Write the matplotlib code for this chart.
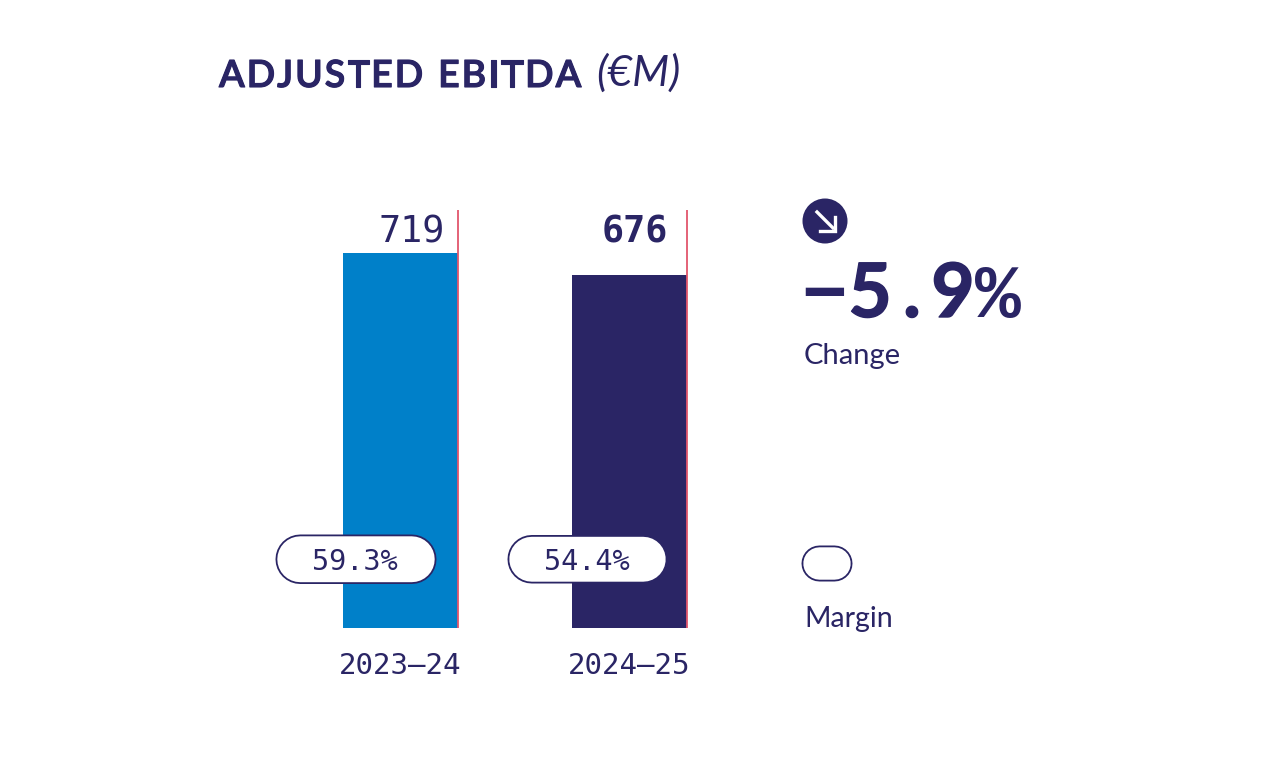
import matplotlib
matplotlib.use('Agg')
import matplotlib.pyplot as plt
import matplotlib.patheffects as pe
from matplotlib.patches import Circle

# values
years = ['2023–24', '2024–25']
ebitda = [719, 676]
margins = ['59.3%', '54.4%']
change = '−5.9%'

navy = '#2a2565'
blue = '#0080c9'
red = '#e2566c'
mono = 'DejaVu Sans Mono'
sans = 'Lato'

W, H = 1280, 758
fig = plt.figure(figsize=(W / 100, H / 100), dpi=100, facecolor='white')

# bars, axes placed so that 0 sits on y=628 and bars are 229px apart
ax = fig.add_axes([300 / W, (H - 628) / H, 430 / W, 418 / H])
ax.set_xlim(-0.439, 1.439)
ax.set_ylim(0, 801)
ax.axis('off')
bar_w = 0.502
xs = [0, 1]
ax.bar(xs, ebitda, width=bar_w, color=[blue, navy], linewidth=0)
# thin red line on the right side of each bar
ax.vlines([x + bar_w / 2 for x in xs], 0, 801, color=red, lw=1.3, zorder=3)

# overlay in pixel coordinates for the labels, pills and side notes
ov = fig.add_axes([0, 0, 1, 1], zorder=5)
ov.set_xlim(0, W)
ov.set_ylim(H, 0)
ov.axis('off')


def pill(x0, y0, x1, y1):
    # round capped thick lines give true half circle ends
    h = y1 - y0
    r = h / 2
    ym = (y0 + y1) / 2
    ov.plot([x0 + r, x1 - r], [ym, ym], color=navy, lw=h * 0.72, solid_capstyle='round', snap=False)
    ov.plot([x0 + r, x1 - r], [ym, ym], color='white', lw=(h - 3.6) * 0.72, solid_capstyle='round', snap=False)


def spaced(s, x, y, gap, **kw):
    # matplotlib has no letter spacing, so place each glyph on its own
    r = fig.canvas.get_renderer()
    for ch in s:
        t = ov.text(x, y, ch, ha='left', va='baseline', **kw)
        x += t.get_window_extent(r).width + gap if ch != ' ' else 11 + gap
    return x


ov.text(445, 232, str(ebitda[0]), ha='right', va='center', family=mono, fontsize=26.5, color=navy)
ov.text(668, 232, str(ebitda[1]), ha='right', va='center', family=mono, fontweight='bold', fontsize=26.5, color=navy)
for px, yr in zip([400.5, 629.5], years):
    ov.text(px, 666, yr, ha='center', va='center', family=mono, fontsize=21, color=navy)

pill(275.5, 534.5, 436.5, 584)
pill(507.5, 535, 667.5, 583.5)
ov.text(355, 562, margins[0], ha='center', va='center', family=mono, fontsize=20.5, color=navy)
ov.text(587, 562, margins[1], ha='center', va='center', family=mono, fontsize=20.5, color=navy)

# semibold comes out light, a thin stroke brings it up to the reference weight
heavier = [pe.withStroke(linewidth=0.8, foreground=navy)]
spaced('ADJUSTED EBITDA', 219, 87, 1.9, family=sans, fontweight='semibold', fontsize=27, color=navy,
       path_effects=heavier)
ov.text(596, 73, '(€M)', ha='left', va='center', family=sans, style='italic',
        fontsize=31, color=navy)

# change block, glyphs set by hand because the digits are spread out
ov.add_patch(Circle((825, 221), 22.5, fc=navy, ec='none'))
ov.plot([817, 833], [212, 228], color='white', lw=2.4)
ov.plot([820, 834.5, 834.5], [230.5, 230.5, 217], color='white', lw=2.4, solid_joinstyle='miter')
ov.text(824, 317, change[0], ha='center', va='baseline', family='Liberation Mono', fontweight='bold',
        fontsize=55, color=navy)
for ch, px in zip(change[1:4], [870, 912, 953]):
    ov.text(px, 317, ch, ha='center', va='baseline', family=sans, fontweight='bold', fontsize=54, color=navy,
            path_effects=[pe.withStroke(linewidth=1.0, foreground=navy)])
ov.text(998, 317, change[4], ha='center', va='baseline', family='Liberation Mono', fontweight='bold',
        fontsize=55, color=navy)
ov.text(804, 356, 'Change', ha='left', va='center', family=sans, fontsize=21, color=navy)

# margin legend
pill(801.5, 545.5, 852.5, 581.5)
ov.text(804, 619, 'Margin', ha='left', va='center', family=sans, fontsize=20.5, color=navy)

fig.savefig('out.png', dpi=100)
